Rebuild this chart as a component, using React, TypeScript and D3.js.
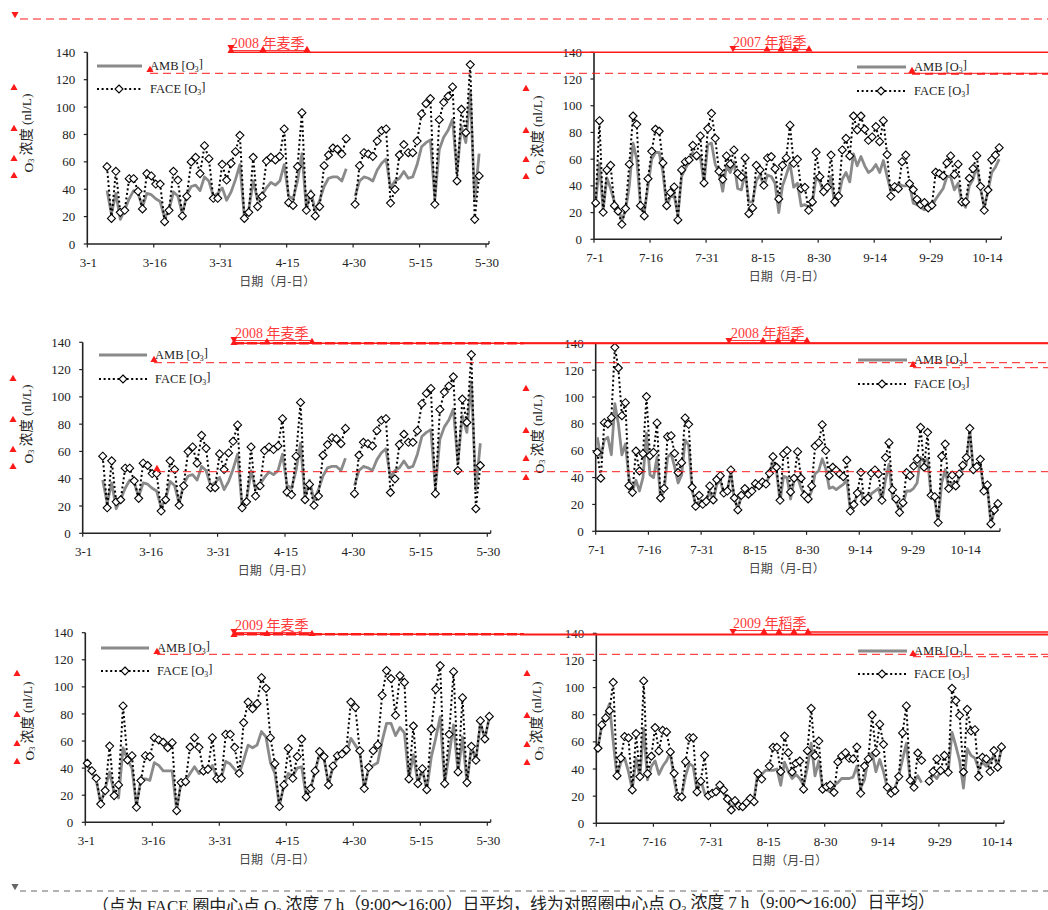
import React from 'react';
import * as d3 from 'd3';

// ---------------- DATA ----------------
const wheatTickLabels = ['3-1', '3-16', '3-31', '4-15', '4-30', '5-15', '5-30'];
const riceTickLabels = ['7-1', '7-16', '7-31', '8-15', '8-30', '9-14', '9-29', '10-14'];
const yTickValues = [0, 20, 40, 60, 80, 100, 120, 140];

const seasonTitles = ['2008 年麦季', '2007 年稻季', '2008 年麦季', '2008 年稻季', '2009 年麦季', '2009 年稻季'];

// 2008 wheat season, first value is day 4 after 3-1
const wheat2008StartDay = 4;
const wheat2008Face = [
  56.5, 18.7, 53.1, 23.1, 24.6, 47.7, 47.7, 38.5, 25.6, 51.4,
  49.7, 43.8, 43.8, 16.3, 24.6, 53.1, 46.7, 20.5, 34.8, 59.9,
  63.3, 51.4, 71.8, 62.3, 33.4, 33.4, 58.2, 46.7, 58.9, 67.4,
  79.4, 18.7, 23.1, 63.3, 27.3, 34.8, 60.6, 63.3, 61.4, 64.0,
  84.0, 30.2, 28.2, 56.5, 95.9, 24.6, 35.8, 20.5, 27.3, 57.2,
  65.0, 70.1, 69.2, 65.7, 76.9,
  null,
  29.0, 57.2, 66.7, 65.7, 64.0, 75.2, 82.8, 84.0, 29.9, 39.9,
  65.0, 72.6, 66.7, 66.7, 75.2, 95.0, 102.5, 106.2, 29.0, 90.8,
  103.5, 107.9, 114.7, 46.0, 98.4, 81.3, 131.0, 18.0, 49.7,
];
const wheat2008Amb = [
  39, 22, 37, 18, 25, 33, 39, 37, 27, 37,
  36, 33, 31, 19, 25, 38, 35, 22, 36, 42,
  43, 39, 49, 46, 35, 37, 41, 32, 38, 47,
  58, 20, 25, 46, 32, 36, 41, 45, 43, 46,
  58, 35, 33, 46, 66, 26, 39, 24, 32, 42,
  48, 49, 49, 46, 55,
  null,
  35, 46, 49, 48, 46, 54, 59, 62, 41, 46,
  48, 53, 48, 49, 58, 71, 74, 76, 33, 69,
  78, 83, 91, 52, 86, 74, 111, 32, 66,
];

// 2009 wheat season, from 3-1
const wheat2009StartDay = 0;
const wheat2009Face = [
  43.6, 38.1, 32.5, 13.5, 23.4, 56.3, 19.7, 27.6, 85.9, 46.0,
  49.2, 11.1, 30.8, 49.2, 48.5, 62.5, 60.8, 59.1, 55.1, 58.8,
  8.6, 29.3, 30.0, 55.6, 62.5, 55.4, 37.9, 39.1, 62.5, 32.2,
  32.5, 65.0, 65.0, 55.4, 36.2, 73.6, 88.8, 83.9, 87.6, 106.8,
  98.9, 62.5, 43.3, 11.6, 27.6, 54.6, 32.5, 48.5, 61.5, 18.7,
  24.9, 37.9, 52.2, 48.5, 27.6, 41.6, 49.2, 50.4, 53.6, 88.8,
  84.9, 52.9, 24.9, 40.6, 52.9, 57.1, 93.8, 112.0, 106.1, 79.0,
  108.3, 103.3, 32.0, 71.1, 28.5, 39.6, 24.1, 68.7, 98.2, 115.7,
  28.5, 65.0, 111.2, 37.2, 92.0, 29.3, 56.1, 45.8, 75.0, 61.5,
  78.2,
];
const wheat2009Amb = [
  42, 37, 31, 14, 25, 37, 22, 18, 55, 46,
  40, 12, 32, 32, 31, 44, 42, 38, 38, 38,
  9, 30, 31, 36, 41, 36, 38, 38, 42, 33,
  33, 45, 43, 39, 36, 46, 57, 55, 57, 67,
  63, 44, 36, 12, 27, 36, 34, 40, 41, 19,
  25, 38, 50, 47, 28, 41, 48, 50, 51, 62,
  57, 52, 25, 40, 42, 44, 60, 73, 73, 64,
  70, 66, 32, 50, 29, 39, 24, 48, 62, 78,
  29, 50, 72, 37, 63, 29, 56, 46, 73, 62,
  77,
];

// 2007 rice season, from 7-1
const rice2007StartDay = 0;
const rice2007Face = [
  27.2, 88.8, 20.2, 51.9, 55.4, 25.2, 21.0, 11.2, 23.0, 56.2,
  92.3, 86.1, 25.2, 17.5, 45.4, 65.9, 82.4, 80.9, 57.2, 25.2,
  34.9, 39.2, 14.5, 51.9, 58.1, 59.4, 70.4, 62.6, 77.4, 42.2,
  82.9, 94.3, 75.6, 50.9, 44.9, 62.4, 56.2, 66.9, 49.4, 46.7,
  60.9, 19.2, 23.5, 55.4, 51.9, 40.4, 60.9, 61.9, 52.9, 30.2,
  55.4, 60.9, 85.4, 56.9, 59.9, 37.9, 38.9, 21.7, 28.0, 65.1,
  46.9, 35.7, 38.9, 63.1, 28.2, 32.4, 66.9, 75.6, 62.4, 92.3,
  81.9, 92.3, 82.4, 74.1, 76.6, 84.4, 73.1, 88.8, 63.4, 32.2,
  39.4, 37.9, 58.1, 63.1, 41.7, 37.2, 29.9, 26.0, 27.5, 23.5,
  25.5, 50.2, 49.2, 47.4, 57.2, 62.4, 48.4, 56.2, 28.0, 28.0,
  45.7, 52.9, 62.6, 39.7, 21.7, 36.9, 59.6, 63.1, 68.6,
];
const rice2007Amb = [
  27, 57, 22, 46, 38, 28, 24, 14, 22, 40,
  72, 60, 25, 20, 40, 60, 65, 65, 50, 25,
  32, 33, 18, 47, 53, 58, 65, 60, 62, 42,
  71, 72, 56, 50, 36, 55, 50, 58, 38, 37,
  50, 28, 28, 44, 48, 40, 48, 47, 42, 20,
  40, 48, 57, 39, 42, 25, 26, 24, 27, 47,
  43, 35, 36, 47, 25, 32, 45, 50, 43, 64,
  55, 62, 55, 50, 52, 56, 50, 59, 47, 36,
  38, 42, 40, 40, 41, 27, 26, 24, 22, 24,
  25, 30, 34, 38, 47, 47, 37, 42, 28, 24,
  40, 45, 55, 38, 24, 36, 50, 54, 60,
];

// 2008 rice season, from 7-1
const rice2008StartDay = 0;
const rice2008Face = [
  58.8, 39.5, 80.9, 79.9, 84.6, 137.0, 121.6, 86.1, 95.8, 34.0,
  29.0, 59.8, 44.9, 57.8, 100.3, 56.3, 58.8, 80.7, 24.8, 32.0,
  70.5, 71.2, 58.1, 43.7, 51.1, 84.4, 79.7, 32.8, 18.6, 26.8,
  20.1, 22.3, 33.8, 23.3, 38.5, 41.4, 28.5, 30.0, 45.7, 24.8,
  15.9, 26.8, 31.8, 27.6, 30.0, 35.5, 34.0, 36.7, 35.2, 43.2,
  55.6, 47.7, 23.1, 57.6, 60.1, 29.3, 39.5, 59.3, 39.5, 26.8,
  24.1, 33.8, 63.5, 66.0, 79.4, 60.1, 41.4, 47.7, 45.4, 42.7,
  40.7, 52.9, 15.1, 19.9, 28.5, 43.9, 22.3, 24.8, 43.2, 45.7,
  42.7, 23.1, 54.9, 66.0, 31.0, 24.1, 14.1, 21.3, 43.7, 41.4,
  48.6, 53.6, 77.4, 47.7, 73.7, 26.8, 25.8, 6.5, 55.8, 65.0,
  31.8, 41.9, 33.8, 42.7, 49.1, 54.9, 76.7, 45.9, 48.2, 53.6,
  30.0, 34.5, 5.5, 15.9, 20.6,
];
const rice2008Amb = [
  70, 55, 68, 70, 57, 95, 80, 57, 65, 40,
  30, 38, 30, 40, 73, 42, 40, 55, 25, 30,
  55, 58, 48, 36, 42, 68, 64, 30, 20, 22,
  20, 22, 30, 23, 35, 38, 28, 30, 44, 24,
  17, 26, 30, 28, 30, 34, 33, 36, 35, 42,
  52, 45, 22, 41, 40, 24, 38, 40, 32, 27,
  24, 30, 43, 45, 54, 47, 32, 33, 31, 33,
  35, 38, 16, 20, 28, 30, 20, 22, 28, 30,
  32, 23, 38, 50, 25, 22, 16, 20, 30, 30,
  32, 36, 55, 52, 54, 26, 24, 7, 36, 46,
  32, 36, 34, 40, 47, 50, 75, 46, 48, 50,
  30, 33, 6, 15, 20,
];

// 2009 rice season, from 7-1
const rice2009StartDay = 0;
const rice2009Face = [
  55.3, 72.5, 77.6, 83.0, 103.9, 35.1, 48.1, 63.9, 62.9, 24.6,
  66.1, 34.4, 104.9, 36.6, 49.4, 70.5, 53.3, 68.5, 67.3, 52.6,
  36.8, 19.7, 19.4, 45.4, 63.1, 63.1, 23.1, 31.0, 49.9, 20.4,
  22.1, 23.3, 28.2, 24.6, 17.9, 9.8, 16.7, 12.8, 12.2, 15.2,
  18.4, 15.9, 36.8, 32.6, null, 42.2, 56.0, 56.0, 38.0, 64.3,
  52.0, 37.8, 44.2, 45.9, 25.1, 53.5, 84.7, 49.8, 60.6, 25.1,
  27.0, 28.2, 22.8, 45.2, 49.6, 52.0, 47.9, 47.4, 56.2, 22.1,
  42.2, 47.4, 79.8, 52.0, 73.0, 58.2, 26.5, 22.1, 24.0, 34.4,
  66.6, 86.5, 31.7, 26.5, 51.8, 46.4, null, 31.0, 38.1, 47.4,
  38.8, 50.1, 37.6, 99.5, 90.4, 79.6, 37.8, 84.0, 68.0, 69.0,
  34.4, 48.6, 47.4, 38.1, 53.6, 41.3, 56.3,
];
const rice2009Amb = [
  56, 72, 80, 88, 60, 34, 45, 48, 38, 25,
  48, 34, 70, 32, 42, 46, 36, 42, 46, 52,
  32, 18, 21, 35, 44, 42, 24, 32, 22, 20,
  22, 24, 27, 22, 18, 12, 14, 12, 12, 15,
  17, 18, 38, 36, 39, 39, 39, 40, 28, 45,
  38, 33, 36, 33, 28, 41, 59, 35, 46, 26,
  25, 23, 28, 30, 33, 33, 33, 34, 42, 26,
  32, 48, 52, 38, 47, 38, 26, 25, 26, 35,
  47, 59, 32, 30, 35, 30, null, 30, 36, 33,
  38, 38, 38, 67, 57, 46, 26, 55, 50, 48,
  40, 45, 42, 45, 50, 42, 55,
];

// ---------------- LAYOUT ----------------
const FONT = "'Liberation Serif','Times New Roman','Noto Sans CJK SC',serif";
const RED = '#ff1a1a';

type Panel = {
  face: (number | null)[];
  amb: (number | null)[];
  start: number;
  ticks: string[];
  ox: number; xLast: number; xEnd: number; yTop: number; yBot: number;
  ytx: number; yty: number;
  lg: { x0: number; x1: number; y1: number; y2: number; dx: number; tx: number };
};

const panels: Panel[] = [
  { face: wheat2008Face, amb: wheat2008Amb, start: wheat2008StartDay, ticks: wheatTickLabels,
    ox: 87.3, xLast: 486, xEnd: 489, yTop: 52.3, yBot: 244, ytx: 28, yty: 133,
    lg: { x0: 97, x1: 142, y1: 66, y2: 89, dx: 119, tx: 150 } },
  { face: rice2007Face, amb: rice2007Amb, start: rice2007StartDay, ticks: riceTickLabels,
    ox: 594, xLast: 986.3, xEnd: 1001.3, yTop: 52.3, yBot: 239.3, ytx: 539, yty: 135,
    lg: { x0: 857, x1: 906, y1: 67, y2: 91, dx: 881, tx: 914 } },
  { face: wheat2008Face, amb: wheat2008Amb, start: wheat2008StartDay, ticks: wheatTickLabels,
    ox: 82.7, xLast: 487.3, xEnd: 490.7, yTop: 342.3, yBot: 533.3, ytx: 28, yty: 424,
    lg: { x0: 99, x1: 147, y1: 355, y2: 379, dx: 123, tx: 155 } },
  { face: rice2008Face, amb: rice2008Amb, start: rice2008StartDay, ticks: riceTickLabels,
    ox: 595.7, xLast: 964.7, xEnd: 1000, yTop: 343.3, yBot: 531.3, ytx: 539, yty: 434,
    lg: { x0: 858, x1: 907, y1: 360, y2: 384, dx: 882, tx: 914 } },
  { face: wheat2009Face, amb: wheat2009Amb, start: wheat2009StartDay, ticks: wheatTickLabels,
    ox: 85.3, xLast: 487.3, xEnd: 490.7, yTop: 632.7, yBot: 822.3, ytx: 29, yty: 721,
    lg: { x0: 101, x1: 149, y1: 648, y2: 671, dx: 125, tx: 157 } },
  { face: rice2009Face, amb: rice2009Amb, start: rice2009StartDay, ticks: riceTickLabels,
    ox: 596.3, xLast: 996, xEnd: 1004, yTop: 633.3, yBot: 823.3, ytx: 538, yty: 721,
    lg: { x0: 858, x1: 907, y1: 651, y2: 674, dx: 882, tx: 914 } },
];

function diamond(cx: number, cy: number, r = 4) {
  return `M${cx},${cy - r}L${cx + r},${cy}L${cx},${cy + r}L${cx - r},${cy}Z`;
}

function ChartPanel({ p }: { p: Panel }) {
  const lastDay = (p.ticks.length - 1) * 15;
  const x = d3.scaleLinear().domain([0, lastDay]).range([p.ox, p.xLast]);
  const y = d3.scaleLinear().domain([0, 140]).range([p.yBot, p.yTop]);
  const pts = (arr: (number | null)[]) => arr.map((v, i) => ({ d: i + p.start + 0.45, v }));
  const line = d3
    .line<{ d: number; v: number | null }>()
    .defined((d) => d.v != null)
    .x((d) => x(d.d))
    .y((d) => y(d.v as number));
  const facePts = pts(p.face);
  const ambPts = pts(p.amb);
  const midX = (p.ox + p.xEnd) / 2 - 11;
  return (
    <g>
      <line x1={p.ox} x2={p.xEnd} y1={p.yBot} y2={p.yBot} stroke="#222" strokeWidth={1.6} />
      <line x1={p.ox} x2={p.ox} y1={p.yTop} y2={p.yBot} stroke="#222" strokeWidth={1.6} />
      {yTickValues.map((t) => (
        <g key={'y' + t}>
          <line x1={p.ox - 3.5} x2={p.ox} y1={y(t)} y2={y(t)} stroke="#222" strokeWidth={1.2} />
          <text x={p.ox - 12} y={y(t)} dy="0.35em" textAnchor="end" fontSize={13} fill="#222">
            {t}
          </text>
        </g>
      ))}
      {p.ticks.map((lab, i) => (
        <g key={'x' + lab}>
          <line x1={x(i * 15)} x2={x(i * 15)} y1={p.yBot} y2={p.yBot + 3.5} stroke="#222" strokeWidth={1.2} />
          <text x={x(i * 15) + 1} y={p.yBot + 23} textAnchor="middle" fontSize={13} fill="#222">
            {lab}
          </text>
        </g>
      ))}
      <line x1={p.xEnd} x2={p.xEnd} y1={p.yBot} y2={p.yBot - 3} stroke="#222" strokeWidth={1.2} />
      <text x={midX} y={p.yBot + 42} textAnchor="middle" fontSize={12} fill="#444">
        日期（月-日）
      </text>
      <text
        transform={`translate(${p.ytx},${p.yty}) rotate(-90)`}
        textAnchor="middle"
        dominantBaseline="central"
        fontSize={13.5}
        fill="#222"
      >
        O<tspan fontSize="0.62em" dy="0.3em">3</tspan>
        <tspan dy="-0.3em"> 浓度 (nl/L)</tspan>
      </text>
      <path d={line(ambPts) || ''} fill="none" stroke="#8a8a8a" strokeWidth={2.8} strokeLinejoin="round" />
      <path d={line(facePts) || ''} fill="none" stroke="#000" strokeWidth={2} strokeDasharray="2,2.6" />
      {facePts
        .filter((d) => d.v != null)
        .map((d, i) => (
          <path key={i} d={diamond(x(d.d), y(d.v as number))} fill="#fff" stroke="#000" strokeWidth={1.1} />
        ))}
      <line x1={p.lg.x0} x2={p.lg.x1} y1={p.lg.y1} y2={p.lg.y1} stroke="#8a8a8a" strokeWidth={2.8} />
      <text x={p.lg.tx} y={p.lg.y1} dy="0.3em" fontSize={12.5} fill="#222">
        AMB [O<tspan fontSize="0.62em" dy="0.3em">3</tspan>
        <tspan dy="-0.3em">]</tspan>
      </text>
      <line x1={p.lg.x0} x2={p.lg.x1} y1={p.lg.y2} y2={p.lg.y2} stroke="#000" strokeWidth={2} strokeDasharray="2,2.6" />
      <path d={diamond(p.lg.dx, p.lg.y2)} fill="#fff" stroke="#000" strokeWidth={1.1} />
      <text x={p.lg.tx} y={p.lg.y2} dy="0.3em" fontSize={12.5} fill="#222">
        FACE [O<tspan fontSize="0.62em" dy="0.3em">3</tspan>
        <tspan dy="-0.3em">]</tspan>
      </text>
    </g>
  );
}

function Up({ x, y, c = RED }: { x: number; y: number; c?: string }) {
  return <path d={`M${x - 3.6},${y + 3}L${x + 3.6},${y + 3}L${x},${y - 3.2}Z`} fill={c} />;
}
function Down({ x, y, c = RED }: { x: number; y: number; c?: string }) {
  return <path d={`M${x - 3.6},${y - 3}L${x + 3.6},${y - 3}L${x},${y + 3.2}Z`} fill={c} />;
}
function Dash({ y, x0, x1 = 1048, w = 1, c = RED, da = '8,5' }: { y: number; x0: number; x1?: number; w?: number; c?: string; da?: string }) {
  return <line x1={x0} x2={x1} y1={y} y2={y} stroke={c} strokeWidth={w} strokeDasharray={da} />;
}
function Solid({ y, x0, x1 = 1048, w = 1.5 }: { y: number; x0: number; x1?: number; w?: number }) {
  return <line x1={x0} x2={x1} y1={y} y2={y} stroke={RED} strokeWidth={w} />;
}
function Season({ x, y, t, w }: { x: number; y: number; t: string; w: number }) {
  return (
    <g>
      <text x={x} y={y} fontSize={14} fill="#ff3a3a">
        {t}
      </text>
      <line x1={x} x2={x + w} y1={y + 2.5} y2={y + 2.5} stroke="#ff3a3a" strokeWidth={1} />
    </g>
  );
}

function Annotations() {
  const leftRow = (x: number, ys: number[]) => ys.map((yy, i) => <Up key={x + '-' + i} x={x} y={yy} />);
  return (
    <g>
      {/* row 1 */}
      <Dash y={19} x0={20} />
      <Down x={15} y={15} />
      <Solid y={52.3} x0={230} />
      <Season x={231} y={48} t={seasonTitles[0]} w={76} />
      <Down x={231} y={48} />
      <Up x={231} y={50} />
      <Up x={263} y={49} />
      <Up x={307} y={49} />
      <Dash y={73.3} x0={150} />
      <Dash y={73.8} x0={912} w={2} />
      <Up x={150} y={69} />
      {leftRow(14, [87, 128, 158, 175])}
      <Season x={733} y={47} t={seasonTitles[1]} w={76} />
      <Down x={733} y={49} />
      {[767, 781, 795, 809].map((xx) => <Up key={'r1' + xx} x={xx} y={48.5} />)}
      <Up x={912} y={70} />
      {leftRow(526, [88, 130, 159, 176])}

      {/* row 2 */}
      <Solid y={343.3} x0={234} w={1.5} />
      <Dash y={343.3} x0={234} x1={524} w={2.6} da="10,3" />
      <Season x={235} y={338} t={seasonTitles[2]} w={77} />
      <Down x={234} y={340} />
      <Up x={234} y={342} />
      <Up x={267} y={341} />
      <Up x={312} y={341} />
      <Dash y={362.7} x0={154} />
      <Up x={154} y={359} />
      <Dash y={471.7} x0={157} />
      <Up x={157} y={468} />
      {leftRow(13, [378, 419, 449, 466])}
      <Season x={731} y={338} t={seasonTitles[3]} w={76} />
      <Down x={729} y={341} />
      {[763, 778, 793, 807].map((xx) => <Up key={'r2' + xx} x={xx} y={340} />)}
      <Solid y={343.3} x0={524} w={2} />
      <Dash y={367.7} x0={913} />
      <Up x={913} y={364} />
      {leftRow(526, [388, 430, 458, 477])}

      {/* row 3 */}
      <Solid y={634.3} x0={234} w={1.5} />
      <Dash y={634.3} x0={234} x1={524} w={2.6} da="10,3" />
      <Season x={235} y={630} t={seasonTitles[4]} w={77} />
      <Down x={234} y={632} />
      <Up x={234} y={634} />
      <Up x={267} y={633} />
      <Up x={312} y={633} />
      <Dash y={654.3} x0={157} />
      <Up x={157} y={651} />
      {leftRow(17, [673, 714, 743, 761])}
      <Season x={733} y={628} t={seasonTitles[5]} w={76} />
      <Down x={733} y={632} />
      {[764, 779, 794, 808].map((xx) => <Up key={'r3' + xx} x={xx} y={631} />)}
      <Solid y={632} x0={808} w={1.5} />
      <Solid y={634.8} x0={524} w={1.5} />
      <Dash y={656.7} x0={913} />
      <Up x={913} y={653} />
      {leftRow(527, [673, 715, 744, 762])}

      {/* bottom */}
      <Dash y={891} x0={20} c="#666" da="6,5" />
      <Down x={15} y={887} c="#666" />
    </g>
  );
}

export default function App() {
  return (
    <svg
      width={1048}
      height={910}
      viewBox="0 0 1048 910"
      style={{ position: 'absolute', left: 0, top: 0, background: '#fff' }}
      fontFamily={FONT}
    >
      <rect width={1048} height={910} fill="#fff" />
      {panels.map((p, i) => (
        <ChartPanel key={i} p={p} />
      ))}
      <Annotations />
      <text x={92} y={912} fontSize={17} fill="#222" textLength={843} lengthAdjust="spacing">
        （点为 FACE 圈中心点 O<tspan fontSize="0.62em" dy="0.3em">3</tspan>
        <tspan dy="-0.3em"> 浓度 7 h（9:00～16:00）日平均，线为对照圈中心点 O</tspan>
        <tspan fontSize="0.62em" dy="0.3em">3</tspan>
        <tspan dy="-0.3em"> 浓度 7 h（9:00～16:00）日平均）</tspan>
      </text>
    </svg>
  );
}
